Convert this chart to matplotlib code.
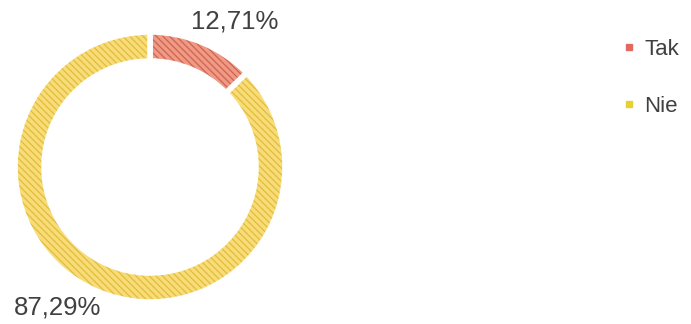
import matplotlib
matplotlib.use("Agg")
import matplotlib.pyplot as plt
from matplotlib.lines import Line2D

plt.rcParams["font.family"] = ["Liberation Sans", "DejaVu Sans"]
plt.rcParams["hatch.linewidth"] = 0.9

labels = ["Tak", "Nie"]
shares = [12.71, 87.29]
face_colors = ["#F09A86", "#F7DC78"]
hatch_colors = ["#CC6450", "#E2BC3C"]
value_texts = ["12,71%", "87,29%"]

# pixel layout of the figure (origin bottom-left)
W, H = 691, 324
CENTER = (150, 157)
RADIUS = 135
RING = 29
LABEL_POS = [(235, 302), (58, 16)]
TEXT_COLOR = "#404040"

fig = plt.figure(figsize=(W / 100, H / 100), dpi=100)
ax = fig.add_axes([0, 0, 1, 1])

wedges, _ = ax.pie(
    shares,
    startangle=90,
    counterclock=False,
    center=CENTER,
    radius=RADIUS,
    colors=face_colors,
    wedgeprops=dict(width=RING, edgecolor="white", linewidth=4),
)
for w, hc in zip(wedges, hatch_colors):
    w.set_hatch("\\\\\\\\\\")
    w._hatch_color = matplotlib.colors.to_rgba(hc)

for txt, (x, y) in zip(value_texts, LABEL_POS):
    ax.text(x, y, txt, ha="center", va="center", fontsize=18.5, color=TEXT_COLOR)

ax.set_xlim(0, W)
ax.set_ylim(0, H)
ax.set_aspect("equal")
ax.axis("off")

handles = [
    Line2D([], [], linestyle="none", marker="s", markersize=5, color=c)
    for c in ["#E06A60", "#E8D030"]
]
fig.legend(
    handles,
    labels,
    loc="upper left",
    bbox_to_anchor=(602 / W, 1 - 19 / H),
    frameon=False,
    fontsize=16,
    labelcolor=TEXT_COLOR,
    handlelength=0.6,
    handletextpad=0.4,
    labelspacing=1.6,
)

fig.savefig("out.png", dpi=100)
